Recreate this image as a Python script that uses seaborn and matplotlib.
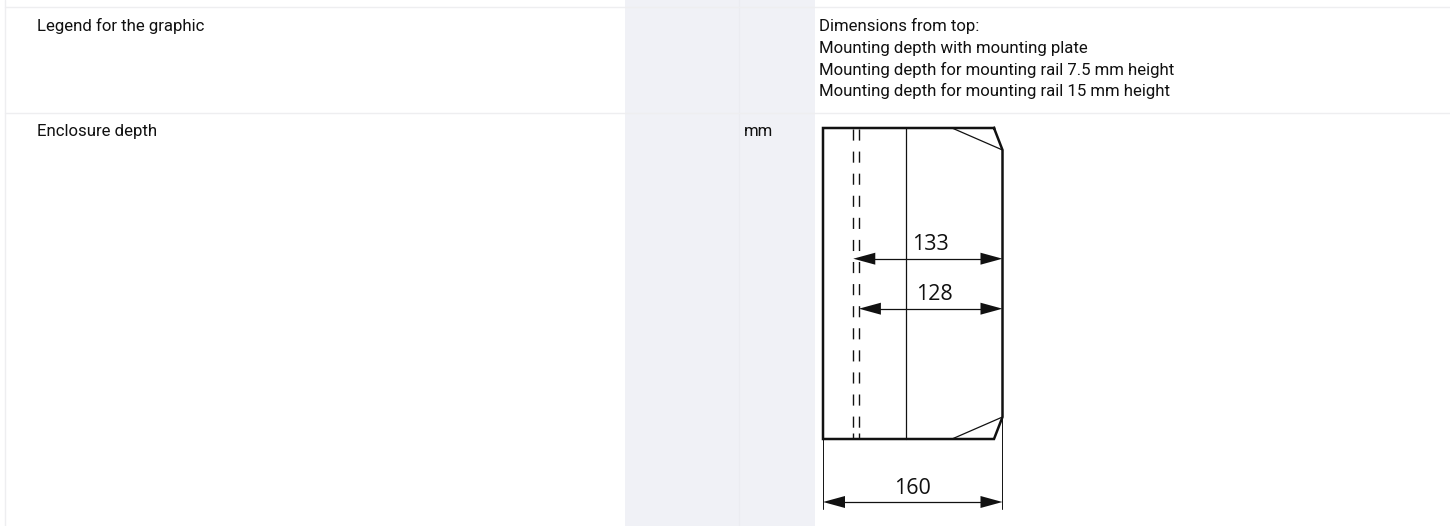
import numpy as np
import pandas as pd
import matplotlib
matplotlib.use("Agg")
import matplotlib.pyplot as plt
import seaborn as sns

row_labels = ["Legend for the graphic", "Enclosure depth"]
unit_labels = ["", "mm"]
legend_lines = ["Dimensions from top:",
                "Mounting depth with mounting plate",
                "Mounting depth for mounting rail 7.5 mm height",
                "Mounting depth for mounting rail 15 mm height"]
depth_total = 160
depth_rail_a = 133
depth_rail_b = 128

outline_x = [994, 823, 823, 994, 1002.5, 1002.5, 994]
outline_y = [128, 128, 439, 439, 417, 150, 128]
chamfer_top_x = [952, 1002.5]
chamfer_top_y = [128, 150]
chamfer_bottom_x = [952, 1002.5]
chamfer_bottom_y = [439, 417]
plate_x = [906, 906]
plate_y = [128, 439]

sns.set_theme(style="white")
plt.rcParams['font.family'] = ['Roboto', 'DejaVu Sans']

fig = plt.figure(figsize=(14.5, 5.26), dpi=100)
ax = fig.add_axes([0, 0, 1, 1])
ax.set_xlim(0, 1450)
ax.set_ylim(526, 0)
ax.axis("off")

INK = "#111111"
GRID = "#eeeef0"
BAND = "#f0f1f6"

ax.axvspan(625, 815, color=BAND, lw=0, zorder=0)
ax.plot([739, 739], [0, 526], color="#ebecf1", lw=1, zorder=1)
ax.plot([5, 5], [0, 526], color=GRID, lw=1, zorder=1)
for y in (7.2, 113.2):
    ax.plot([5, 1450], [y, y], color=GRID, lw=1, zorder=1)


def seg(xs, ys, lw, **kw):
    df = pd.DataFrame({"x": xs, "y": ys})
    sns.lineplot(data=df, x="x", y="y", sort=False, estimator=None, ax=ax,
                 color=INK, lw=lw, legend=False, zorder=3, **kw)


seg(outline_x, outline_y, 1.8, solid_joinstyle="miter", solid_capstyle="projecting")
seg(chamfer_top_x, chamfer_top_y, 0.9)
seg(chamfer_bottom_x, chamfer_bottom_y, 0.9)
seg(plate_x, plate_y, 0.9)

# scale: total depth spans the enclosure width
right = 1002.5
left = 823
px_per_mm = (right - left) / depth_total
rail_a_x = right - depth_rail_a * px_per_mm
rail_b_x = right - depth_rail_b * px_per_mm

for x in (rail_a_x, rail_b_x):
    ax.plot([x, x], [129, 430], color=INK, lw=1.0, zorder=3,
            dashes=(8.0, 7.9), dash_capstyle="butt")
    ax.plot([x, x], [433, 439], color=INK, lw=1.0, zorder=3, solid_capstyle="butt")

seg([left, left], [439, 509], 0.7)
seg([right, right], [417, 509], 0.7)


def dim(x0, x1, y, label, tx, ty):
    seg([x0 + 15, x1 - 15], [y, y], 0.9)
    for tip, base in ((x0, x0 + 22), (x1, x1 - 22)):
        ax.fill([tip, base, base], [y, y - 6, y + 6], color=INK, lw=0, zorder=4)
    ax.text(tx, ty, label, fontsize=15.5, family=["Open Sans", "DejaVu Sans"],
            ha="center", va="center", color=INK, zorder=5)


dim(rail_a_x, right, 258.7, str(depth_rail_a), 930, 244.5)
dim(rail_b_x, right, 308.7, str(depth_rail_b), 934, 295)
dim(left, right, 502, str(depth_total), 912, 488)

FS = 12.05
for label, y in zip(row_labels, (31, 136)):
    ax.text(37, y, label, fontsize=FS, color=INK, va="baseline")
ax.text(744, 136, unit_labels[1], fontsize=FS, color=INK, va="baseline")
for line, y in zip(legend_lines, (31, 52.5, 74.5, 96)):
    ax.text(819, y, line, fontsize=FS, color=INK, va="baseline")

fig.savefig("out.png", dpi=100)
